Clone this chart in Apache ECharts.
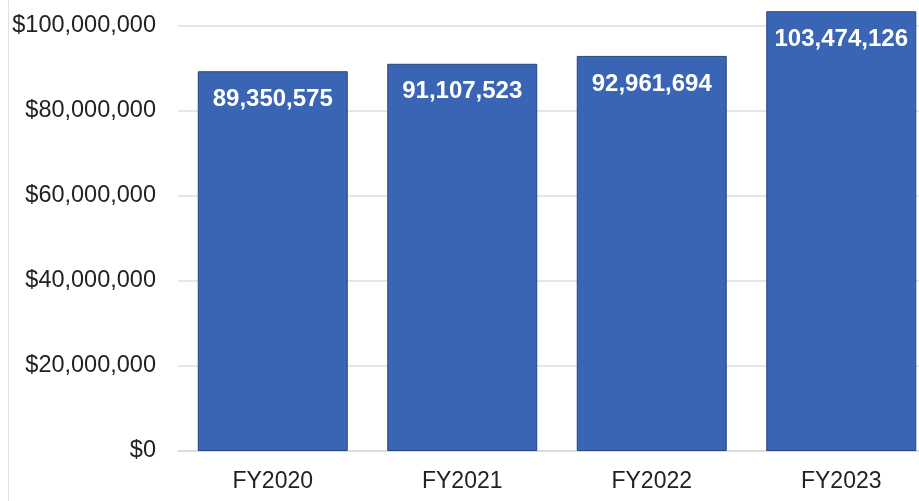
<!DOCTYPE html>
<html>
<head>
<meta charset="utf-8">
<script src="https://cdn.jsdelivr.net/npm/echarts@6/dist/echarts.min.js"></script>
<style>html,body{margin:0;padding:0;background:#fff}#c{width:919px;height:501px}</style>
</head>
<body>
<div id="c"></div>
<script>
const categories = ['FY2020', 'FY2021', 'FY2022', 'FY2023'];
const values = [89350575, 91107523, 92961694, 103474126];
const yTicks = [0, 20000000, 40000000, 60000000, 80000000, 100000000];

const fmt = v => v.toString().replace(/\B(?=(\d{3})+(?!\d))/g, ',');
const chart = echarts.init(document.getElementById('c'));
chart.setOption({
  animation: false,
  backgroundColor: '#fff',
  graphic: [{
    type: 'line', shape: {x1: 8.5, y1: 0, x2: 8.5, y2: 501},
    style: {stroke: '#e0e0e0', lineWidth: 1}
  }],
  grid: {left: 178, top: 26, width: 758, height: 425, containLabel: false, outerBoundsMode: 'none'},
  xAxis: {
    type: 'category', data: categories,
    axisLine: {lineStyle: {color: '#d9d9d9', width: 1.5}},
    axisTick: {show: false},
    axisLabel: {color: '#222', fontSize: 23, fontFamily: 'Liberation Sans', margin: 19}
  },
  yAxis: {
    type: 'value', min: yTicks[0], max: yTicks[yTicks.length - 1], interval: 20000000,
    axisLine: {show: false}, axisTick: {show: false},
    splitLine: {lineStyle: {color: '#dedede', width: 1.5}},
    axisLabel: {color: '#222', fontSize: 23.5, fontFamily: 'Liberation Sans', margin: 22,
      formatter: v => '$' + fmt(v)}
  },
  series: [{
    type: 'bar', data: values, barWidth: 150, clip: false,
    itemStyle: {color: '#3a64b4', borderColor: '#27457f', borderWidth: 1},
    label: {
      show: true, position: 'insideTop', distance: 16,
      color: '#fff', fontSize: 24, fontWeight: 'bold', fontFamily: 'Liberation Sans',
      formatter: p => fmt(p.value)
    }
  }]
});
</script>
</body>
</html>
